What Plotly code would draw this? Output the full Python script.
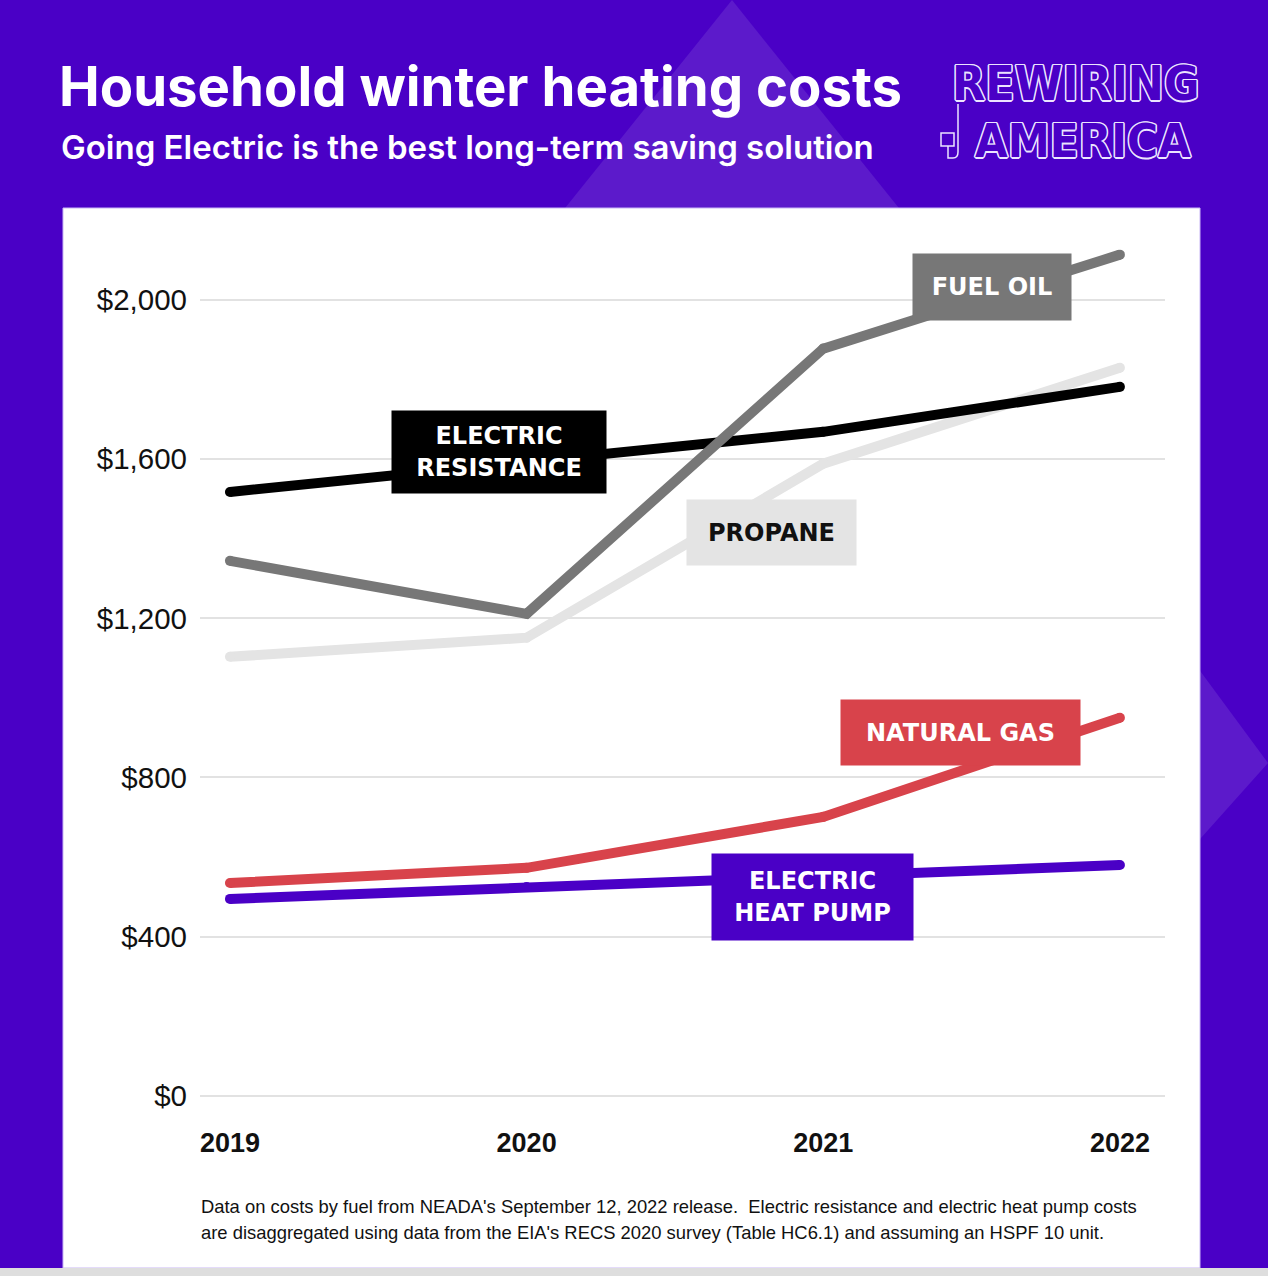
import plotly.graph_objects as go

W, H = 1268, 1276

years = [2019, 2020, 2021, 2022]
propane = [1103, 1151, 1588, 1829]
electric_resistance = [1517, 1590, 1668, 1781]
fuel_oil = [1344, 1211, 1877, 2113]
natural_gas = [535, 573, 701, 950]
heat_pump = [495, 525, 553, 580]

y_ticks = [0, 400, 800, 1200, 1600, 2000]
y_tick_labels = ["$0", "$400", "$800", "$1,200", "$1,600", "$2,000"]

PURPLE = "#4a00c6"
LAVENDER = "#ece4ff"


def px(x):
    return x / W


def py(y):
    return 1 - y / H


fig = go.Figure()

# drawing order matters: fuel oil sits on top of the black line, black on top of propane
series = [
    ("Propane", propane, "#e4e4e4"),
    ("Electric resistance", electric_resistance, "#000000"),
    ("Fuel oil", fuel_oil, "#777777"),
    ("Natural gas", natural_gas, "#d8434b"),
    ("Electric heat pump", heat_pump, PURPLE),
]
for name, vals, col in series:
    # markers the size of the stroke give the rounded ends / joins
    fig.add_trace(go.Scatter(
        x=years, y=vals, name=name, mode="lines+markers",
        line=dict(color=col, width=10),
        marker=dict(color=col, size=10, line=dict(width=0)),
        hoverinfo="x+y+name",
    ))

shapes = [
    # background triangles
    dict(type="path", xref="paper", yref="paper", layer="below",
         path=f"M {px(732)} {py(0)} L {px(1000)} {py(334)} L {px(464)} {py(334)} Z",
         fillcolor="rgba(255,255,255,0.10)", line=dict(width=0)),
    dict(type="path", xref="paper", yref="paper", layer="below",
         path=f"M {px(1150)} {py(603)} L {px(1268)} {py(763)} L {px(1150)} {py(895)} Z",
         fillcolor="rgba(255,255,255,0.10)", line=dict(width=0)),
    # white panel
    dict(type="rect", xref="paper", yref="paper", layer="below",
         x0=px(63), x1=px(1200), y0=py(1268), y1=py(208),
         fillcolor="white", line=dict(color="#c9b6f5", width=1)),
    # screenshot edge at the bottom
    dict(type="rect", xref="paper", yref="paper", layer="below",
         x0=0, x1=1, y0=0, y1=py(1268),
         fillcolor="#dedede", line=dict(width=0)),
    # plug wire of the logo
    dict(type="path", xref="paper", yref="paper",
         path=(f"M {px(958)} {py(104)} L {px(958)} {py(152)} "
               f"Q {px(958)} {py(158)} {px(953)} {py(158)} "
               f"L {px(948)} {py(158)} L {px(948)} {py(146)}"),
         line=dict(color=LAVENDER, width=1.5)),
    dict(type="rect", xref="paper", yref="paper",
         x0=px(941), x1=px(954), y0=py(146), y1=py(133),
         line=dict(color=LAVENDER, width=1.5)),
]

outline = ", ".join(
    f"{dx}px {dy}px 0 {LAVENDER}"
    for dx, dy in [(1.5, 0), (-1.5, 0), (0, 1.5), (0, -1.5),
                   (1, 1), (-1, 1), (1, -1), (-1, -1)]
)
logo_font = "Liberation Sans Narrow, DejaVu Sans Condensed"

annotations = [
    dict(text="Household winter heating costs", x=px(57), y=py(86),
         font=dict(family="Inter", size=54.5, color="white", weight=700)),
    dict(text="Going Electric is the best long-term saving solution", x=px(59), y=py(147),
         font=dict(family="Inter", size=33, color="white", weight=600)),
    dict(text="REWIRING", x=px(950), y=py(83),
         font=dict(family=logo_font, size=48, color=PURPLE, weight=700, shadow=outline)),
    dict(text="AMERICA", x=px(973), y=py(140),
         font=dict(family=logo_font, size=47, color=PURPLE, weight=700, shadow=outline)),
    dict(text="Data on costs by fuel from NEADA's September 12, 2022 release.  "
              "Electric resistance and electric heat pump costs",
         x=px(199), y=py(1206),
         font=dict(family="Liberation Sans", size=18.4, color="#111111")),
    dict(text="are disaggregated using data from the EIA's RECS 2020 survey "
              "(Table HC6.1) and assuming an HSPF 10 unit.",
         x=px(199), y=py(1232),
         font=dict(family="Liberation Sans", size=18.4, color="#111111")),
]
for a in annotations:
    a.update(xref="paper", yref="paper", xanchor="left", yanchor="middle", showarrow=False)

# line labels: (text, left, top, right, bottom, box colour, text colour)
labels = [
    ("FUEL OIL", 913, 254, 1071, 320, "#777777", "white"),
    ("ELECTRIC<br>RESISTANCE", 392, 411, 606, 493, "#000000", "white"),
    ("PROPANE", 687, 500, 856, 565, "#e4e4e4", "#111111"),
    ("NATURAL GAS", 841, 700, 1080, 765, "#d8434b", "white"),
    ("ELECTRIC<br>HEAT PUMP", 712, 854, 913, 940, PURPLE, "white"),
]
for text, x0, y0, x1, y1, bg, fg in labels:
    annotations.append(dict(
        text=text, xref="paper", yref="paper",
        x=px((x0 + x1) / 2), y=py((y0 + y1) / 2),
        xanchor="center", yanchor="middle", showarrow=False,
        width=x1 - x0, height=y1 - y0, bgcolor=bg, borderpad=0,
        align="center", valign="middle",
        font=dict(family="DejaVu Sans", size=24, color=fg, weight=700),
    ))

fig.update_layout(
    width=W, height=H,
    margin=dict(l=0, r=0, t=0, b=0, autoexpand=False),
    paper_bgcolor=PURPLE,
    plot_bgcolor="rgba(0,0,0,0)",
    showlegend=False,
    shapes=shapes,
    annotations=annotations,
    xaxis=dict(
        domain=[px(200), px(1165)],
        range=[2018.899, 2022.152],
        tickvals=years, ticktext=[str(y) for y in years],
        showgrid=False, zeroline=False, showline=False, ticks="",
        ticklabelstandoff=28, automargin=False,
        tickfont=dict(family="Liberation Sans", size=27, color="#111111", weight=700),
        fixedrange=True,
    ),
    yaxis=dict(
        domain=[py(1096), py(220)],
        range=[0, 2200],
        tickvals=y_ticks, ticktext=y_tick_labels,
        showgrid=True, gridcolor="#e2e2e2", gridwidth=2,
        zeroline=True, zerolinecolor="#e2e2e2", zerolinewidth=2,
        showline=False, ticks="",
        ticklabelstandoff=12, automargin=False,
        tickfont=dict(family="Liberation Sans", size=29.5, color="#111111"),
        fixedrange=True,
    ),
)

fig.write_html(
    "out.html",
    config={"displayModeBar": False},
    post_script="document.body.style.margin='0';document.body.style.overflow='hidden';",
)
